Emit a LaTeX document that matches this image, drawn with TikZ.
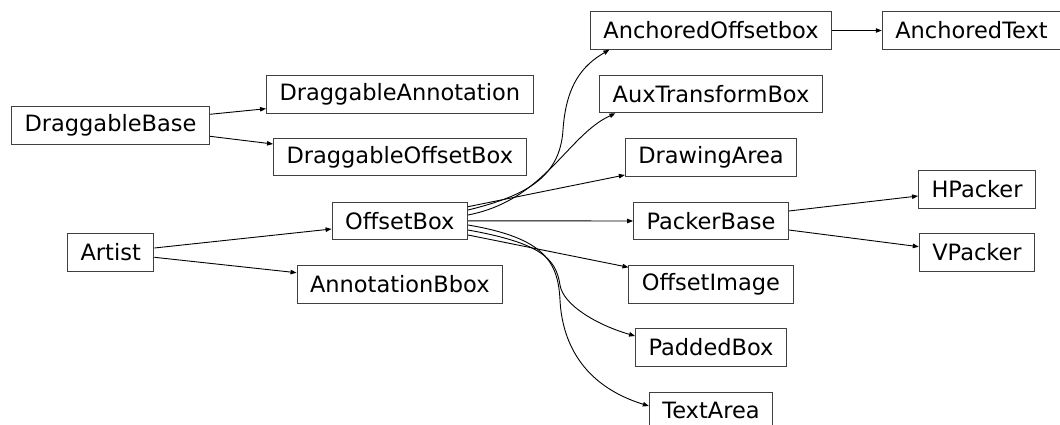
\documentclass[tikz,border=0pt]{standalone}
\usepackage{fontspec}
\setmainfont{DejaVu Sans}
\usetikzlibrary{arrows.meta, positioning}

\tikzset{
  cls/.style={draw=black!75, line width=1pt, fill=white, inner xsep=13pt, inner ysep=0pt,
    minimum height=37.5pt, font=\fontsize{22.5}{27}\selectfont},
  inh/.style={-{Triangle[length=6pt, width=4.5pt]}, line width=0.9pt, black}
}

\begin{document}
\begin{tikzpicture}[x=1pt, y=-1pt]
\useasboundingbox (0,0) rectangle (1060,425);

% first column
\node[cls] (db)  at (110.5,125.7) {DraggableBase};
\node[cls] (art) at (110.7,252.5) {Artist};

% second column
\node[cls] (da)  at (399.8,94.3)  {DraggableAnnotation};
\node[cls] (dob) at (399.8,157.2) {DraggableOffsetBox};
\node[cls] (ob)  at (399.8,220.8) {OffsetBox};
\node[cls] (abb) at (399.8,284.5) {AnnotationBbox};

% third column
\node[cls] (aob) at (711,30.5)  {AnchoredOffsetbox};
\node[cls] (atb) at (711,94)    {AuxTransformBox};
\node[cls] (dra) at (711,157.3) {DrawingArea};
\node[cls] (pb)  at (711,221)   {PackerBase};
\node[cls] (oi)  at (711,284.3) {OffsetImage};
\node[cls] (pdb) at (711,347.3) {PaddedBox};
\node[cls] (txa) at (711,410.8) {TextArea};

% fourth column
\node[cls] (at) at (971.5,30.5) {AnchoredText};
\node[cls] (hp) at (977,189.3)  {HPacker};
\node[cls] (vp) at (977,252.5)  {VPacker};

% straight edges
\draw[inh] ([yshift=11.4pt]db.east) -- ([yshift=-14.4pt]da.west);
\draw[inh] ([yshift=-10.6pt]db.east) -- ([yshift=13.2pt]dob.west);
\draw[inh] ([yshift=4.5pt]art.east) -- ([yshift=-8.2pt]ob.west);
\draw[inh] ([yshift=-4.8pt]art.east) -- ([yshift=11.8pt]abb.west);
\draw[inh] ([yshift=14.1pt]ob.east) -- ([yshift=-17.7pt]dra.west);
\draw[inh] (ob.east) -- (pb.west);
\draw[inh] ([yshift=-14.2pt]ob.east) -- ([yshift=17pt]oi.west);
\draw[inh] (aob.east) -- (at.west);
\draw[inh] ([yshift=10pt]pb.east) -- ([yshift=-6.7pt]hp.west);
\draw[inh] ([yshift=-9pt]pb.east) -- ([yshift=5.8pt]vp.west);

% curved edges
\draw[inh] ([yshift=10.8pt]ob.east) .. controls +(62,-15) and +(-3,45) .. (563,130)
  .. controls +(3,-45) and +(-27,15.7) .. ([xshift=19.5pt]aob.south west);
\draw[inh] ([yshift=5.8pt]ob.east) .. controls +(77,-15) and +(-48.3,22.3) .. ([xshift=16.3pt]atb.south west);
\draw[inh] ([yshift=-9.2pt]ob.east) .. controls +(72,13) and +(-4,-27) .. (560,285)
  .. controls +(3,20) and +(-38,-11) .. ([yshift=11.3pt]pdb.west);
\draw[inh] ([yshift=-4.2pt]ob.east) .. controls +(77,13) and +(-2,-38) .. (560,300)
  .. controls +(2,40) and +(-68,-21) .. ([yshift=4.8pt]txa.west);

\end{tikzpicture}
\end{document}
